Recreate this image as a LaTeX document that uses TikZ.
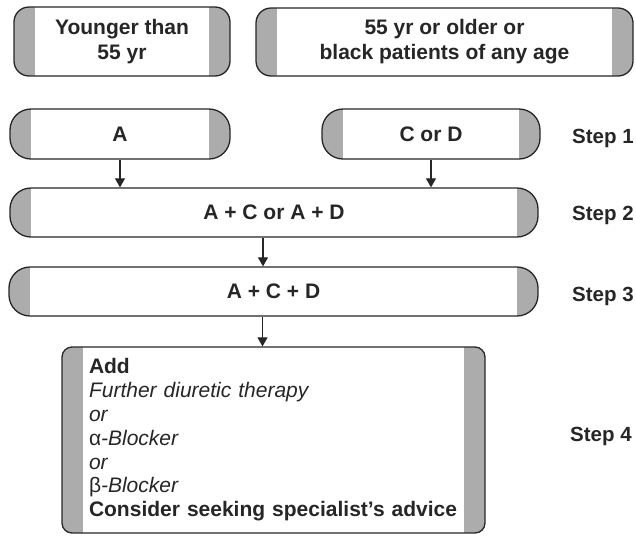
\documentclass[tikz,border=0pt]{standalone}
\usepackage{fontspec}
\setmainfont{Liberation Sans}
\usetikzlibrary{arrows.meta}
\definecolor{capgray}{HTML}{ACACAC}
\definecolor{ink}{HTML}{262626}
\tikzset{
  capbox/.style={draw=ink, line width=1.3pt, rounded corners=#1, fill=white,
    inner sep=0pt, align=center, text=ink,
    font=\fontsize{21}{25}\selectfont\bfseries,
    path picture={
      \fill[capgray, sharp corners] (path picture bounding box.north west) rectangle ([xshift=21pt]path picture bounding box.south west);
      \fill[capgray, sharp corners] (path picture bounding box.north east) rectangle ([xshift=-21pt]path picture bounding box.south east);
    }},
  steplabel/.style={anchor=base west, inner sep=0pt, text=ink,
    font=\fontsize{20.5}{25}\selectfont\bfseries},
  arr/.style={draw=ink, line width=1.1pt, -{Triangle[width=10pt,length=9pt]}},
}
\begin{document}
\begin{tikzpicture}[x=1pt,y=-1pt]
\useasboundingbox (0,0) rectangle (636,536);
\node[capbox=15pt, minimum width=216pt, minimum height=69pt] (young) at (122,41.5) {Younger than\\55 yr};
\node[capbox=15pt, minimum width=377pt, minimum height=68pt] (old) at (444.5,42) {55 yr or older or\\black patients of any age};
\node[capbox=21pt, minimum width=220pt, minimum height=50pt] (a) at (120,134) {A};
\node[capbox=21pt, minimum width=218pt, minimum height=50pt] (cd) at (431,134) {C or D};
\node[capbox=21pt, minimum width=528pt, minimum height=49pt] (s2) at (274,212.5) {A + C or A + D};
\node[capbox=21pt, minimum width=529pt, minimum height=49pt] (s3) at (273.5,291.5) {A + C + D};
\node[capbox=10pt, minimum width=423pt, minimum height=186pt, align=left,
      text width=369pt, inner xsep=27pt, font=\fontsize{21}{23.8}\selectfont] (s4) at (273.5,440)
  {\textbf{Add}\\
   \textit{Further diuretic therapy}\\
   \textit{or}\\
   α\textit{-Blocker}\\
   \textit{or}\\
   β\textit{-Blocker}\\
   \textbf{Consider seeking specialist’s advice}};
\node[steplabel] (st1) at (572,143) {Step 1};
\node[steplabel] (st2) at (572,220) {Step 2};
\node[steplabel] (st3) at (572,301) {Step 3};
\node[steplabel] (st4) at (570,441) {Step 4};
\draw[arr] (a.south) -- (a.south |- s2.north);
\draw[arr] (cd.south) -- (cd.south |- s2.north);
\draw[arr] ([xshift=-11pt]s2.south) -- ([xshift=-11pt]s2.south |- s3.north);
\draw[arr] ([xshift=-11pt]s3.south) -- ([xshift=-11pt]s3.south |- s4.north);
\end{tikzpicture}
\end{document}
